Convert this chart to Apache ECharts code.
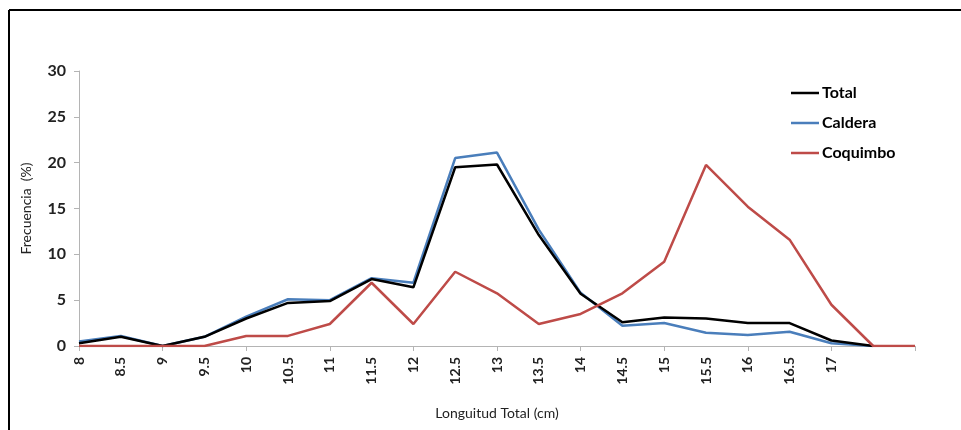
<!DOCTYPE html>
<html>
<head>
<meta charset="utf-8">
<script src="https://cdn.jsdelivr.net/npm/echarts@6/dist/echarts.min.js"></script>
<style>
html,body{margin:0;padding:0;background:#fff;}
#chart{width:961px;height:430px;}
</style>
</head>
<body>
<div id="chart"></div>
<script>
var categories = ['8','8.5','9','9.5','10','10.5','11','11.5','12','12.5','13','13.5','14','14.5','15','15.5','16','16.5','17','17.5','18'];
var tickLabels = ['8','8.5','9','9.5','10','10.5','11','11.5','12','12.5','13','13.5','14','14.5','15','15.5','16','16.5','17','',''];
var yTicks = [0, 5, 10, 15, 20, 25, 30];
var total    = [0.3, 1.0, 0, 1.0, 3.0, 4.7, 4.9, 7.3, 6.4, 19.5, 19.8, 12.1, 5.7, 2.6, 3.1, 3.0, 2.5, 2.5, 0.6, 0, null];
var caldera  = [0.5, 1.1, 0, 1.0, 3.2, 5.1, 5.0, 7.4, 6.9, 20.5, 21.1, 12.7, 5.8, 2.2, 2.5, 1.45, 1.2, 1.55, 0.3, 0, null];
var coquimbo = [0, 0, 0, 0, 1.1, 1.1, 2.4, 6.9, 2.4, 8.1, 5.75, 2.4, 3.5, 5.75, 9.2, 19.75, 15.2, 11.6, 4.5, 0, 0];

var font = 'Lato, "Open Sans", sans-serif';
var chart = echarts.init(document.getElementById('chart'));
chart.setOption({
  animation: false,
  backgroundColor: '#fff',
  graphic: [
    {type:'line', shape:{x1:9, y1:10, x2:961, y2:10}, style:{stroke:'#000', lineWidth:2}},
    {type:'line', shape:{x1:9, y1:10, x2:9, y2:430}, style:{stroke:'#000', lineWidth:2}}
  ],
  grid: {left: 79, right: 46, top: 71, bottom: 84, containLabel: false},
  legend: {
    orient: 'vertical', left: 786, top: 80,
    itemWidth: 28, itemHeight: 14, itemGap: 14,
    icon: 'path://M0,6 L28,6 L28,8.5 L0,8.5 Z',
    textStyle: {fontFamily: font, fontWeight: 'bold', fontSize: 16, color: '#000', padding: [0,0,0,-2]},
    data: ['Total', 'Caldera', 'Coquimbo']
  },
  xAxis: {
    type: 'category', data: categories, boundaryGap: false,
    name: 'Longuitud Total (cm)', nameLocation: 'middle', nameGap: 60,
    nameTextStyle: {fontFamily: font, fontSize: 14, color: '#222'},
    axisLine: {lineStyle: {color: '#b4b4b4', width: 1}},
    axisTick: {show: true, interval: 1, length: 5, lineStyle: {color: '#b4b4b4'}},
    axisLabel: {
      interval: 0, rotate: 90, margin: 11,
      fontFamily: font, fontWeight: 'bold', fontSize: 14, color: '#222',
      formatter: function (v, i) { return tickLabels[i]; }
    },
    splitLine: {show: false}
  },
  yAxis: {
    type: 'value', min: yTicks[0], max: yTicks[yTicks.length - 1], interval: 5,
    name: 'Frecuencia  (%)', nameLocation: 'middle', nameGap: 46, nameRotate: 90,
    nameTextStyle: {fontFamily: font, fontSize: 14, color: '#222'},
    axisLine: {show: true, lineStyle: {color: '#b4b4b4', width: 1}},
    axisTick: {show: true, length: 5, lineStyle: {color: '#b4b4b4'}},
    axisLabel: {margin: 13, fontFamily: font, fontWeight: 'bold', fontSize: 16, color: '#222'},
    splitLine: {show: false}
  },
  series: [
    {name: 'Total', type: 'line', data: total, showSymbol: false, symbol: 'none',
     lineStyle: {color: '#000', width: 2.5}, itemStyle: {color: '#000'}, z: 3},
    {name: 'Caldera', type: 'line', data: caldera, showSymbol: false, symbol: 'none',
     lineStyle: {color: '#4a7ebb', width: 2.5}, itemStyle: {color: '#4a7ebb'}, z: 2},
    {name: 'Coquimbo', type: 'line', data: coquimbo, showSymbol: false, symbol: 'none',
     lineStyle: {color: '#be4b48', width: 2.5}, itemStyle: {color: '#be4b48'}, z: 4}
  ]
});
</script>
</body>
</html>
